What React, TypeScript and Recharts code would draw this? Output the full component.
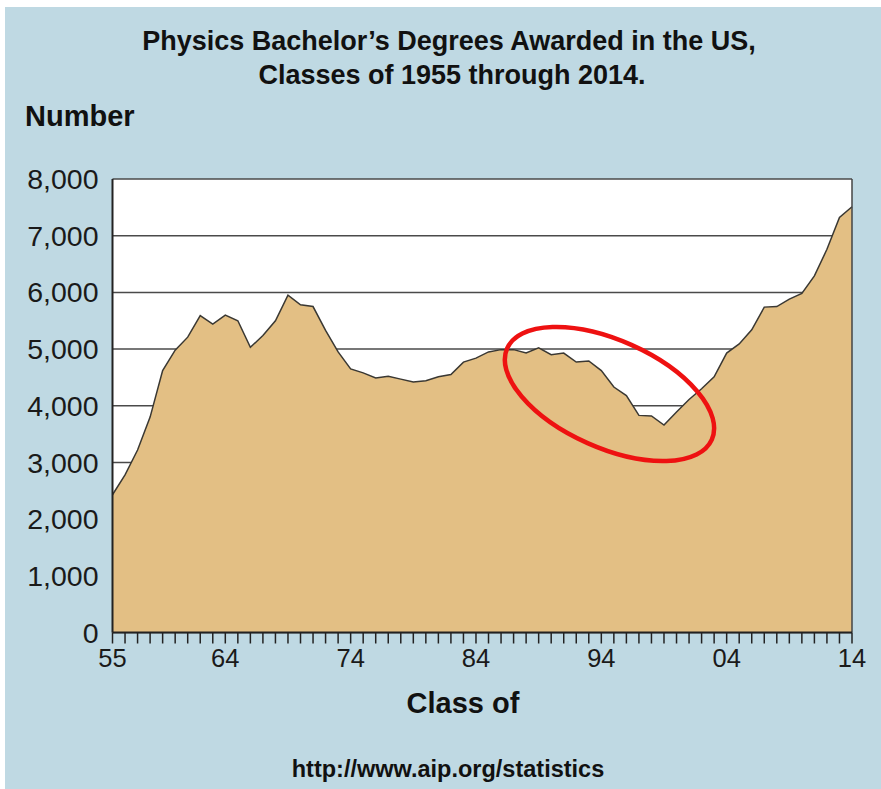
import React from 'react';
import { AreaChart, Area, XAxis, YAxis, CartesianGrid, ReferenceArea, ReferenceLine } from 'recharts';

// class year (1955 - 2014)
const years = [
  1955, 1956, 1957, 1958, 1959, 1960, 1961, 1962, 1963, 1964,
  1965, 1966, 1967, 1968, 1969, 1970, 1971, 1972, 1973, 1974,
  1975, 1976, 1977, 1978, 1979, 1980, 1981, 1982, 1983, 1984,
  1985, 1986, 1987, 1988, 1989, 1990, 1991, 1992, 1993, 1994,
  1995, 1996, 1997, 1998, 1999, 2000, 2001, 2002, 2003, 2004,
  2005, 2006, 2007, 2008, 2009, 2010, 2011, 2012, 2013, 2014,
];

// physics bachelor's degrees
const degrees = [
  2430, 2780, 3220, 3800, 4620, 4980, 5210, 5590, 5440, 5600,
  5500, 5030, 5240, 5500, 5950, 5780, 5750, 5330, 4950, 4650,
  4580, 4490, 4520, 4470, 4420, 4440, 4510, 4550, 4770, 4840,
  4950, 4990, 4990, 4930, 5020, 4900, 4930, 4770, 4790, 4620,
  4330, 4180, 3830, 3820, 3660, 3890, 4110, 4300, 4510, 4930,
  5090, 5340, 5740, 5750, 5880, 5980, 6290, 6760, 7320, 7510,
];

const labeledYears = [1955, 1964, 1974, 1984, 1994, 2004, 2014];
const yTicks = [0, 1000, 2000, 3000, 4000, 5000, 6000, 7000, 8000];

// red ellipse around the 1990s dip: [x1, x2, y1, y2] in data units
const highlightBox = [1986.3, 2003.0, 3025, 5390];
const highlightAngle = 24;

const data = years.map((year, i) => ({ year, degrees: degrees[i] }));

const FONT = '"Liberation Sans", Arial, sans-serif';
const BG = '#BFD9E3';

const YearTick = (props: any) => {
  const { x, y, payload } = props;
  if (!labeledYears.includes(payload.value)) return null;
  const label = String(payload.value % 100).padStart(2, '0');
  return (
    <text x={x} y={y} dy="0.71em" textAnchor="middle" fontSize={25.5} fontFamily={FONT} fill="#1a1a1a">
      {label}
    </text>
  );
};

// rotated ellipse that fits the reference area's box
const EllipseShape = (props: any) => {
  const { x, y, width, height } = props;
  const cx = x + width / 2;
  const cy = y + height / 2;
  const W = width / 2;
  const H = height / 2;
  const t = (highlightAngle * Math.PI) / 180;
  const c2 = Math.cos(t) ** 2;
  const s2 = Math.sin(t) ** 2;
  const a = Math.sqrt(Math.max(1, (W * W * c2 - H * H * s2) / (c2 - s2)));
  const b = Math.sqrt(Math.max(1, (H * H * c2 - W * W * s2) / (c2 - s2)));
  return (
    <ellipse
      cx={cx}
      cy={cy}
      rx={a}
      ry={b}
      transform={`rotate(${highlightAngle} ${cx} ${cy})`}
      fill="none"
      stroke="#EE1111"
      strokeWidth={4.5}
    />
  );
};

const App: React.FC = () => {
  return (
    <div style={{ position: 'absolute', left: 0, top: 0, width: 881, height: 789, background: '#fff' }}>
      <div style={{ position: 'absolute', left: 5, top: 7, width: 876, height: 782, background: BG }} />
      <svg width={881} height={789} style={{ position: 'absolute', left: 0, top: 0 }}>
        <g fontFamily={FONT} fontWeight="bold" fill="#111">
          <text x={449} y={50} fontSize={27} textAnchor="middle">
            Physics Bachelor’s Degrees Awarded in the US,
          </text>
          <text x={452} y={84} fontSize={27} textAnchor="middle">
            Classes of 1955 through 2014.
          </text>
          <text x={25} y={126} fontSize={29}>
            Number
          </text>
          <text x={463} y={713} fontSize={29} textAnchor="middle">
            Class of
          </text>
          <text x={448} y={777} fontSize={23.5} textAnchor="middle">
            http://www.aip.org/statistics
          </text>
        </g>
      </svg>
      <div style={{ position: 'absolute', left: 0, top: 0 }}>
        <AreaChart
          width={881}
          height={789}
          data={data}
          margin={{ top: 179, right: 29, bottom: 116.5, left: 0 }}
        >
          <CartesianGrid horizontal vertical={false} fill="#fff" stroke="#4a4a4a" strokeWidth={1.5} />
          <XAxis
            dataKey="year"
            type="number"
            domain={[1955, 2014]}
            ticks={years}
            interval={0}
            height={40}
            tickSize={11}
            tickMargin={5}
            tick={<YearTick />}
            tickLine={{ stroke: '#222', strokeWidth: 1.5 }}
            axisLine={{ stroke: '#222', strokeWidth: 2 }}
          />
          <YAxis
            type="number"
            domain={[0, 8000]}
            ticks={yTicks}
            width={112.5}
            tickLine={false}
            tickSize={6}
            tickMargin={8}
            tickFormatter={(v: number) => v.toLocaleString('en-US')}
            tick={{ fontSize: 28.5, fontFamily: FONT, fill: '#1a1a1a' }}
            axisLine={{ stroke: '#222', strokeWidth: 2 }}
          />
          <Area
            type="linear"
            dataKey="degrees"
            fill="#E3BF84"
            fillOpacity={1}
            stroke="#3a3833"
            strokeWidth={1.5}
            dot={false}
            activeDot={false}
            isAnimationActive={false}
          />
          <ReferenceLine x={2014} stroke="#444" strokeWidth={1.5} />
          <ReferenceArea
            x1={highlightBox[0]}
            x2={highlightBox[1]}
            y1={highlightBox[2]}
            y2={highlightBox[3]}
            shape={<EllipseShape />}
          />
        </AreaChart>
      </div>
    </div>
  );
};

export default App;
